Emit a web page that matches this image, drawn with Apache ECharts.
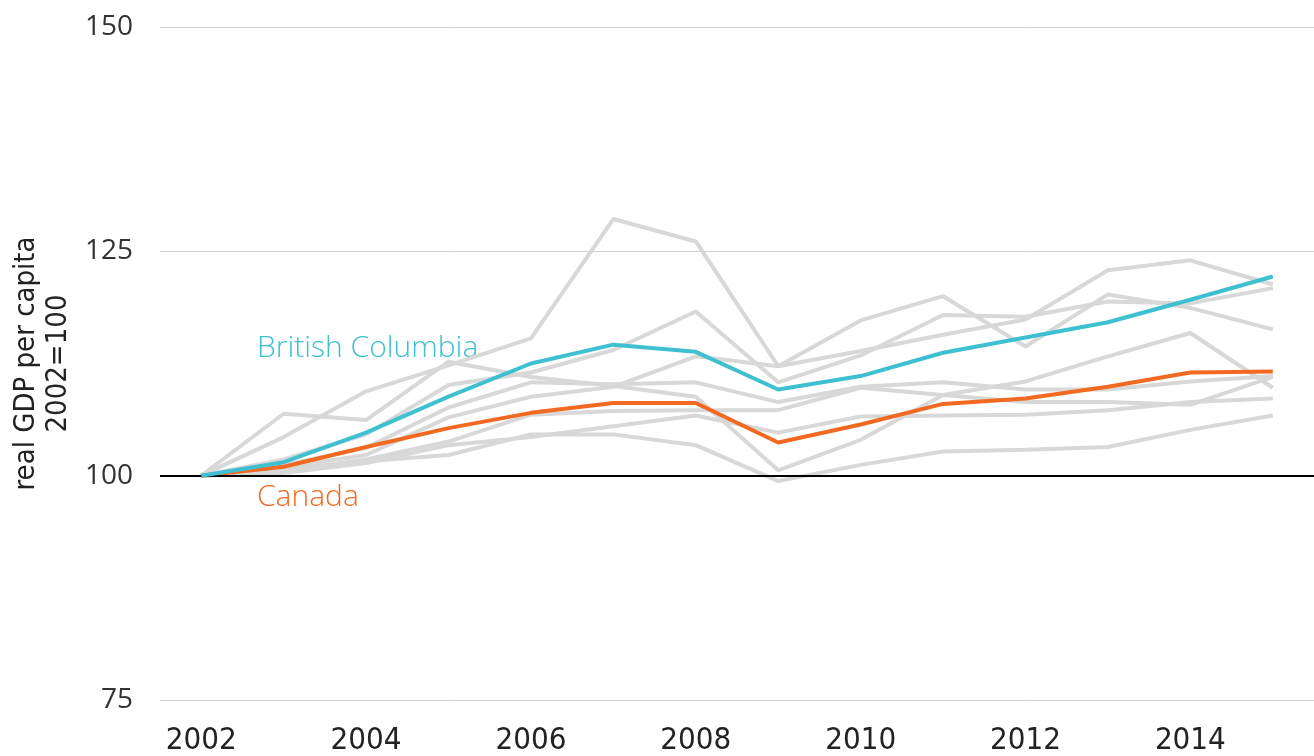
<!DOCTYPE html>
<html>
<head>
<meta charset="utf-8">
<script src="https://cdn.jsdelivr.net/npm/echarts@6/dist/echarts.min.js"></script>
<style>
html,body{margin:0;padding:0;background:#fff;}
#c{width:1314px;height:756px;}
</style>
</head>
<body>
<div id="c"></div>
<script>
var years = ['2002','2003','2004','2005','2006','2007','2008','2009','2010','2011','2012','2013','2014','2015'];
var yTicks = [75, 100, 125, 150];
var britishColumbia = [100, 101.5, 104.8, 108.8, 112.5, 114.6, 113.8, 109.6, 111.1, 113.7, 115.4, 117.1, 119.6, 122.2];
var canada = [100, 101.0, 103.2, 105.3, 107.0, 108.1, 108.1, 103.7, 105.7, 108.0, 108.6, 109.9, 111.5, 111.6];
var otherA = [100, 104.3, 109.4, 112.3, 115.3, 128.6, 126.1, 112.2, 117.3, 120.0, 114.4, 120.2, 118.7, 116.3];
var otherS = [100, 106.9, 106.2, 112.7, 111.0, 110.0, 108.8, 100.6, 104.0, 109.0, 108.2, 108.2, 107.9, 111.0];
var otherP = [100, 101.8, 104.6, 110.1, 111.5, 114.0, 118.3, 110.4, 113.4, 117.9, 117.7, 119.4, 119.2, 120.9];
var otherQ = [100, 100.9, 102.3, 106.5, 108.8, 109.9, 113.3, 112.2, 113.9, 115.7, 117.4, 122.9, 124.0, 121.3];
var otherR = [100, 101.2, 103.1, 107.6, 110.4, 110.2, 110.4, 108.2, 109.9, 110.4, 109.6, 109.6, 110.5, 111.1];
var otherT = [100, 100.5, 101.8, 103.8, 106.8, 107.2, 107.3, 107.3, 109.8, 109.0, 110.5, 113.3, 115.9, 109.8];
var otherU = [100, 100.3, 101.4, 103.4, 104.3, 105.5, 106.7, 104.8, 106.6, 106.7, 106.8, 107.3, 108.2, 108.6];
var otherV = [100, 100.7, 101.6, 102.3, 104.6, 104.6, 103.4, 99.4, 101.2, 102.7, 102.9, 103.2, 105.1, 106.7];
var others = [otherA, otherS, otherP, otherQ, otherR, otherT, otherU, otherV];

var condensed = '"DejaVu Sans Condensed", "Liberation Sans Narrow", "Roboto", sans-serif';

var chart = echarts.init(document.getElementById('c'), null, {renderer:'canvas'});
var series = [];
others.forEach(function(d, i){
  series.push({type:'line', data:d, symbol:'none', silent:true,
    lineStyle:{color:'#d8d8d8', width:4}, z:2});
});
series.push({type:'line', data:canada, symbol:'none', lineStyle:{color:'#f26a21', width:4}, z:4,
  markLine:{silent:true, symbol:'none', label:{show:false},
    lineStyle:{color:'#000', width:2, type:'solid'}, data:[{yAxis:100}]}});
series.push({type:'line', data:britishColumbia, symbol:'none', lineStyle:{color:'#3fc0d0', width:4}, z:5});

chart.setOption({
  animation:false,
  grid:{left:160, right:0, top:27, bottom:56, containLabel:false, outerBoundsMode:'none'},
  xAxis:{type:'category', data:years, boundaryGap:true,
    axisLine:{show:false}, axisTick:{show:false},
    axisLabel:{interval:1, margin:25, color:'#222', fontSize:31, fontFamily:condensed}},
  yAxis:{type:'value', min:75, max:150, interval:25,
    axisLine:{show:false}, axisTick:{show:false},
    axisLabel:{margin:27, color:'#333', fontSize:28, fontFamily:'"Open Sans"'},
    splitLine:{lineStyle:{color:'#cfcfcf', width:1}},
    name:'real GDP per capita\n2002=100', nameLocation:'middle', nameGap:84,
    nameTextStyle:{color:'#222', fontSize:29, fontFamily:condensed, lineHeight:32}},
  graphic:[
    {type:'text', left:257, top:333, style:{text:'British Columbia', fill:'#3fc0d0', font:'300 30px "Open Sans"'}},
    {type:'text', left:257, top:482, style:{text:'Canada', fill:'#f26a21', font:'300 30px "Open Sans"'}}
  ],
  series:series
});
</script>
</body>
</html>
